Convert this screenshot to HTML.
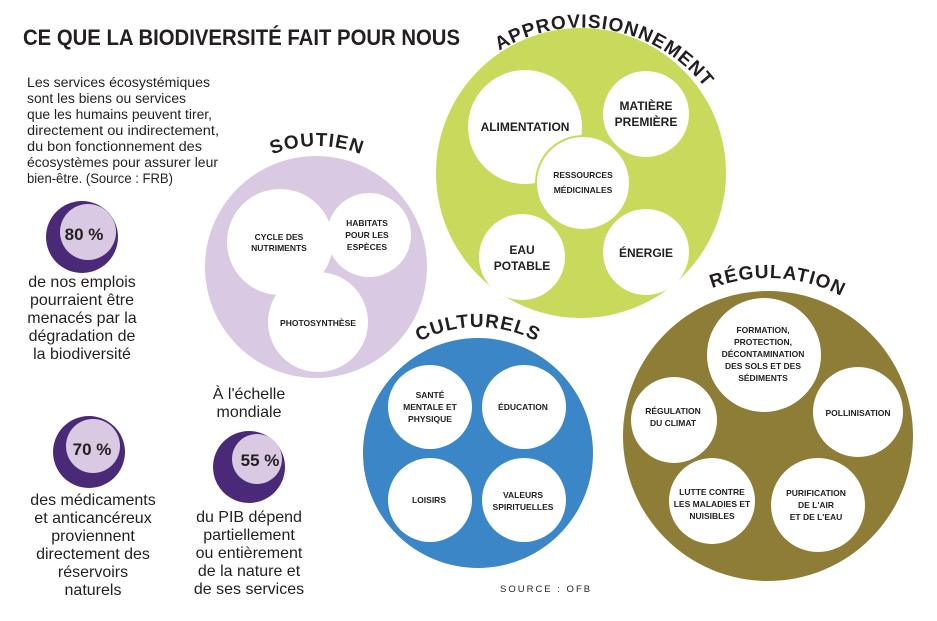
<!DOCTYPE html>
<html><head><meta charset="utf-8"><style>
html,body{margin:0;padding:0;background:#fff}
svg{display:block}
text{font-family:"Liberation Sans",sans-serif;fill:#231f20}
.b{font-weight:bold}
.s{font-size:8.5px;font-weight:bold;text-anchor:middle}
.m{font-size:12px;font-weight:bold;text-anchor:middle}
.p{font-size:16px;text-anchor:middle}
.t{font-size:19px;font-weight:bold;letter-spacing:1px}
</style></head><body>
<svg width="937" height="621" viewBox="0 0 937 621" xmlns="http://www.w3.org/2000/svg">
<defs>
<path id="ap" d="M 425 172 A 157 157 0 0 1 738 172"/>
<path id="so" d="M 196 267 A 121 121 0 0 1 438 267"/>
<path id="cu" d="M 352 453 A 126 126 0 0 1 604 453"/>
<path id="re" d="M 610 436 A 158 158 0 0 1 926 436"/>
</defs>
<text x="23" y="45" class="b" style="font-size:22px" textLength="437" lengthAdjust="spacingAndGlyphs">CE QUE LA BIODIVERSITÉ FAIT POUR NOUS</text>
<g style="font-size:13.5px">
<text x="27" y="87" textLength="183" lengthAdjust="spacingAndGlyphs">Les services écosystémiques</text>
<text x="27" y="103" textLength="159" lengthAdjust="spacingAndGlyphs">sont les biens ou services</text>
<text x="27" y="119" textLength="185" lengthAdjust="spacingAndGlyphs">que les humains peuvent tirer,</text>
<text x="27" y="135" textLength="192" lengthAdjust="spacingAndGlyphs">directement ou indirectement,</text>
<text x="27" y="151" textLength="175" lengthAdjust="spacingAndGlyphs">du bon fonctionnement des</text>
<text x="27" y="167" textLength="191" lengthAdjust="spacingAndGlyphs">écosystèmes pour assurer leur</text>
<text x="27" y="183" textLength="146" lengthAdjust="spacingAndGlyphs">bien-être. (Source : FRB)</text>
</g>
<!-- stats -->
<circle cx="82" cy="237" r="36" fill="#4a2a78"/>
<circle cx="88" cy="232" r="28" fill="#d9c9e3"/>
<text x="84" y="240" class="b" style="font-size:17px;text-anchor:middle">80 %</text>
<text class="p" x="82" y="287">de nos emplois</text>
<text class="p" x="82" y="305">pourraient être</text>
<text class="p" x="82" y="323">menacés par la</text>
<text class="p" x="82" y="341">dégradation de</text>
<text class="p" x="82" y="359">la biodiversité</text>
<circle cx="89" cy="452" r="36" fill="#4a2a78"/>
<circle cx="93" cy="446" r="27" fill="#d9c9e3"/>
<text x="92" y="455" class="b" style="font-size:17px;text-anchor:middle">70 %</text>
<text class="p" x="93" y="505">des médicaments</text>
<text class="p" x="93" y="523">et anticancéreux</text>
<text class="p" x="93" y="541">proviennent</text>
<text class="p" x="93" y="559">directement des</text>
<text class="p" x="93" y="577">réservoirs</text>
<text class="p" x="93" y="595">naturels</text>
<text class="p" x="249" y="399">À l'échelle</text>
<text class="p" x="249" y="417">mondiale</text>
<circle cx="249" cy="467" r="36" fill="#4a2a78"/>
<circle cx="257" cy="459" r="25" fill="#d9c9e3"/>
<text x="260" y="466" class="b" style="font-size:17px;text-anchor:middle">55 %</text>
<text class="p" x="249" y="522">du PIB dépend</text>
<text class="p" x="249" y="540">partiellement</text>
<text class="p" x="249" y="558">ou entièrement</text>
<text class="p" x="249" y="576">de la nature et</text>
<text class="p" x="249" y="594">de ses services</text>
<!-- approvisionnement -->
<circle cx="581" cy="173" r="145" fill="#c8d95c"/>
<circle cx="525" cy="127" r="57" fill="#fff"/>
<circle cx="646" cy="114" r="43" fill="#fff"/>
<circle cx="522" cy="257" r="43" fill="#fff"/>
<circle cx="646" cy="252" r="43" fill="#fff"/>
<circle cx="583" cy="183" r="47" fill="#fff" stroke="#c8d95c" stroke-width="2"/>
<text class="m" x="525" y="131">ALIMENTATION</text>
<text class="m" x="646" y="110">MATIÈRE</text><text class="m" x="646" y="126">PREMIÈRE</text>
<text class="s" x="583" y="178">RESSOURCES</text><text class="s" x="583" y="193">MÉDICINALES</text>
<text class="m" x="522" y="254">EAU</text><text class="m" x="522" y="270">POTABLE</text>
<text class="m" x="646" y="257">ÉNERGIE</text>
<text class="t"><textPath href="#ap" startOffset="56%" text-anchor="middle">APPROVISIONNEMENT</textPath></text>
<!-- soutien -->
<circle cx="316" cy="267" r="111" fill="#d9c9e3"/>
<circle cx="280" cy="242" r="53" fill="#fff"/>
<circle cx="369" cy="235" r="42" fill="#fff"/>
<circle cx="318" cy="322" r="50" fill="#fff"/>
<text class="s" x="279" y="240">CYCLE DES</text><text class="s" x="279" y="251">NUTRIMENTS</text>
<text class="s" x="367" y="226">HABITATS</text><text class="s" x="367" y="238">POUR LES</text><text class="s" x="367" y="250">ESPÈCES</text>
<text class="s" x="318" y="326">PHOTOSYNTHÈSE</text>
<text class="t"><textPath href="#so" startOffset="50%" text-anchor="middle">SOUTIEN</textPath></text>
<!-- culturels -->
<circle cx="478" cy="453" r="115" fill="#3a86c6"/>
<circle cx="430" cy="407" r="42" fill="#fff"/>
<circle cx="524" cy="407" r="42" fill="#fff"/>
<circle cx="430" cy="500" r="42" fill="#fff"/>
<circle cx="524" cy="500" r="42" fill="#fff"/>
<text class="s" x="430" y="398">SANTÉ</text><text class="s" x="430" y="410">MENTALE ET</text><text class="s" x="430" y="422">PHYSIQUE</text>
<text class="s" x="523" y="410">ÉDUCATION</text>
<text class="s" x="429" y="503">LOISIRS</text>
<text class="s" x="523" y="498">VALEURS</text><text class="s" x="523" y="510">SPIRITUELLES</text>
<text class="t"><textPath href="#cu" startOffset="50%" text-anchor="middle">CULTURELS</textPath></text>
<!-- regulation -->
<circle cx="768" cy="436" r="145" fill="#8e7d36"/>
<circle cx="764" cy="355" r="57" fill="#fff"/>
<circle cx="674" cy="420" r="43" fill="#fff"/>
<circle cx="858" cy="412" r="45" fill="#fff"/>
<circle cx="712" cy="501" r="43" fill="#fff"/>
<circle cx="818" cy="505" r="47" fill="#fff"/>
<text class="s" x="763" y="333">FORMATION,</text><text class="s" x="763" y="345">PROTECTION,</text><text class="s" x="763" y="357">DÉCONTAMINATION</text><text class="s" x="763" y="369">DES SOLS ET DES</text><text class="s" x="763" y="381">SÉDIMENTS</text>
<text class="s" x="673" y="414">RÉGULATION</text><text class="s" x="673" y="426">DU CLIMAT</text>
<text class="s" x="858" y="416">POLLINISATION</text>
<text class="s" x="712" y="495">LUTTE CONTRE</text><text class="s" x="712" y="507">LES MALADIES ET</text><text class="s" x="712" y="519">NUISIBLES</text>
<text class="s" x="816" y="496">PURIFICATION</text><text class="s" x="816" y="508">DE L'AIR</text><text class="s" x="816" y="520">ET DE L'EAU</text>
<text class="t"><textPath href="#re" startOffset="52%" text-anchor="middle">RÉGULATION</textPath></text>
<text x="500" y="592" style="font-size:9.5px;letter-spacing:2px">SOURCE : OFB</text>
</svg>
</body></html>
